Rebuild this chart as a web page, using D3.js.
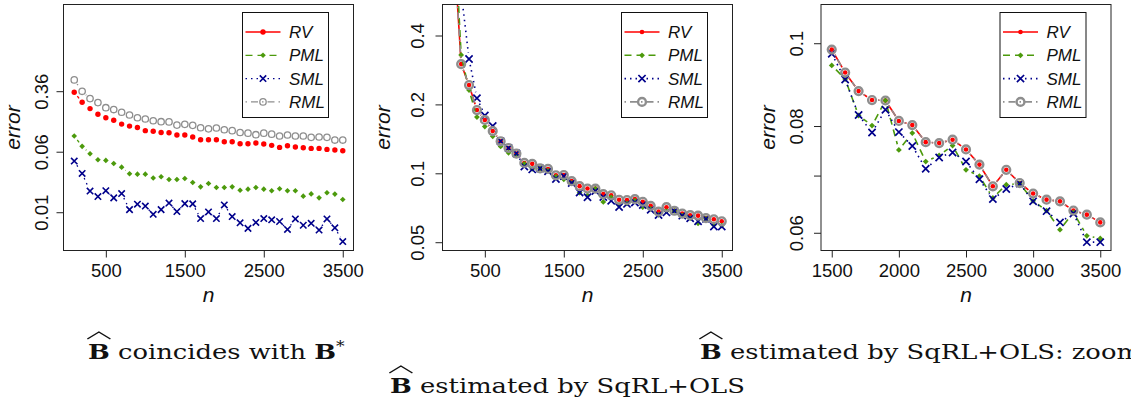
<!DOCTYPE html>
<html>
<head>
<meta charset="utf-8">
<script src="https://cdn.jsdelivr.net/npm/d3@7"></script>
<style>
  body { margin: 0; background: #fff; }
  svg { display: block; }
</style>
</head>
<body>
<script>
//Sizes
const W = 1131
const H = 406

//DATA
const nAll = [100, 200, 300, 400, 500, 600, 700, 800, 900, 1000, 1100, 1200, 1300, 1400, 1500, 1600, 1700, 1800,
  1900, 2000, 2100, 2200, 2300, 2400, 2500, 2600, 2700, 2800, 2900, 3000, 3100, 3200, 3300, 3400, 3500]

// left panel: B-hat coincides with B*
const rv1 = [0.349, 0.259, 0.215, 0.182, 0.164, 0.152, 0.136, 0.128, 0.123, 0.112, 0.110, 0.106, 0.105, 0.0984,
  0.0984, 0.0927, 0.0856, 0.0856, 0.0856, 0.0807, 0.0807, 0.0760, 0.0760, 0.0775, 0.0753, 0.0724, 0.0682, 0.0717,
  0.0689, 0.0675, 0.0662, 0.0662, 0.0643, 0.0630, 0.0618]
const pml1 = [0.0955, 0.0703, 0.0565, 0.0473, 0.0464, 0.0424, 0.0380, 0.0312, 0.0309, 0.0309, 0.0275, 0.0286,
  0.0264, 0.0264, 0.0272, 0.0241, 0.0212, 0.0234, 0.0208, 0.0208, 0.0212, 0.0192, 0.0198, 0.0208, 0.0198, 0.0189,
  0.0200, 0.0189, 0.0189, 0.0161, 0.0172, 0.0153, 0.0178, 0.0171, 0.0146]
const sml1 = [0.0455, 0.0315, 0.0187, 0.0159, 0.0189, 0.0153, 0.0174, 0.0108, 0.0127, 0.0120, 0.0094, 0.0108,
  0.0131, 0.0102, 0.0129, 0.0128, 0.0083, 0.0101, 0.0083, 0.0124, 0.0088, 0.0073, 0.0062, 0.0074, 0.0083, 0.0080,
  0.0076, 0.0060, 0.0082, 0.0068, 0.0072, 0.0059, 0.0082, 0.0063, 0.0042]
const rml1 = [0.503, 0.359, 0.289, 0.257, 0.221, 0.209, 0.193, 0.178, 0.164, 0.158, 0.150, 0.146, 0.145, 0.132,
  0.135, 0.131, 0.122, 0.118, 0.121, 0.115, 0.112, 0.106, 0.104, 0.0993, 0.104, 0.101, 0.0955, 0.0984, 0.0955,
  0.0955, 0.0918, 0.0927, 0.0918, 0.0847, 0.0847]

// middle + right panel: B-hat estimated by SqRL+OLS
const rv2 = [1.10, 0.300, 0.243, 0.189, 0.171, 0.153, 0.138, 0.129, 0.122, 0.111, 0.110, 0.105, 0.1045, 0.098,
  0.0983, 0.0924, 0.0879, 0.0858, 0.0857, 0.0811, 0.0802, 0.0766, 0.0764, 0.0771, 0.0751, 0.0721, 0.0680, 0.0711,
  0.0686, 0.0667, 0.0656, 0.0653, 0.0637, 0.0630, 0.0617]
const pml2 = [1.50, 0.329, 0.231, 0.176, 0.160, 0.145, 0.131, 0.123, 0.120, 0.110, 0.1045, 0.105, 0.1028, 0.0967,
  0.0942, 0.0908, 0.0823, 0.0801, 0.0857, 0.0750, 0.0785, 0.0727, 0.0739, 0.0759, 0.0711, 0.0699, 0.0659, 0.0683,
  0.0685, 0.0654, 0.0637, 0.0605, 0.0634, 0.0595, 0.0591]
const sml2 = [2.00, 0.620, 0.316, 0.213, 0.179, 0.161, 0.138, 0.129, 0.122, 0.107, 0.104, 0.105, 0.102, 0.0945,
  0.0972, 0.0907, 0.0824, 0.0786, 0.0836, 0.0787, 0.0758, 0.0713, 0.0735, 0.0745, 0.0727, 0.0693, 0.0657, 0.0675,
  0.0685, 0.0653, 0.0636, 0.0617, 0.0632, 0.0585, 0.0585]
const rml2 = [1.10, 0.300, 0.243, 0.189, 0.171, 0.153, 0.138, 0.129, 0.122, 0.111, 0.110, 0.105, 0.1045, 0.098,
  0.0983, 0.0924, 0.0879, 0.0858, 0.0857, 0.0811, 0.0802, 0.0766, 0.0764, 0.0771, 0.0751, 0.0721, 0.0680, 0.0711,
  0.0686, 0.0667, 0.0656, 0.0653, 0.0637, 0.0630, 0.0617]

const seriesNames = ['RV', 'PML', 'SML', 'RML']

//Ticks
const xTicks1 = [500, 1500, 2500, 3500]
const xTicks3 = [1500, 2000, 2500, 3000, 3500]
const yTicks1 = [0.01, 0.06, 0.36]
const yTickLabels1 = ['0.01', '0.06', '0.36']
const yTicks2 = [0.05, 0.1, 0.2, 0.4]
const yTickLabels2 = ['0.05', '0.1', '0.2', '0.4']
const yTicks3 = [0.06, 0.07, 0.08, 0.1]
const yTickLabels3 = ['0.06', '', '0.08', '0.1']

//Styles
const styles = {
  RV:  { color: '#ff0000', dash: null,            mark: 'dot' },
  PML: { color: '#4c9a0c', dash: '7,5',           mark: 'diamond' },
  SML: { color: '#00008b', dash: '1.5,4',         mark: 'cross' },
  RML: { color: '#8e8e8e', dash: '1.5,4,7,4',     mark: 'ring' }
}
const sans = 'Liberation Sans, Arial, Helvetica, sans-serif'
const serif = 'DejaVu Serif, serif'

const svg = d3.select('body')
  .append('svg')
  .attr('width', W)
  .attr('height', H)

function drawMark(g, type, x, y, color, m) {
  if (type === 'dot') {
    g.append('circle').attr('cx', x).attr('cy', y).attr('r', m.dot).attr('fill', color)
  } else if (type === 'diamond') {
    const s = m.diamond
    g.append('path')
      .attr('d', `M${x},${y - s}L${x + s},${y}L${x},${y + s}L${x - s},${y}Z`)
      .attr('fill', color)
  } else if (type === 'cross') {
    const s = m.cross
    g.append('path')
      .attr('d', `M${x - s},${y - s}L${x + s},${y + s}M${x - s},${y + s}L${x + s},${y - s}`)
      .attr('stroke', color).attr('stroke-width', m.crossW).attr('fill', 'none')
  } else {
    g.append('circle').attr('cx', x).attr('cy', y).attr('r', m.ring)
      .attr('fill', 'none').attr('stroke', color).attr('stroke-width', m.ringW)
  }
}

function panel(cfg) {
  const x = d3.scaleLinear().domain(cfg.xDomain).range([cfg.left, cfg.right])
  const y = d3.scaleLog().domain(cfg.yDomain).range([cfg.bottom, cfg.top])
  const id = 'clip' + cfg.key

  svg.append('clipPath').attr('id', id)
    .append('rect')
    .attr('x', cfg.left).attr('y', cfg.top)
    .attr('width', cfg.right - cfg.left).attr('height', cfg.bottom - cfg.top)

  const plot = svg.append('g').attr('clip-path', `url(#${id})`)

  cfg.series.forEach((vals, si) => {
    const st = styles[seriesNames[si]]
    const pts = []
    cfg.n.forEach((n, i) => {
      if (n >= cfg.nMin) pts.push([x(n), y(vals[i])])
    })
    // type = "b": line pieces with a gap round each point
    const gl = plot.append('g')
    for (let i = 0; i < pts.length - 1; i++) {
      const [ax, ay] = pts[i], [bx, by] = pts[i + 1]
      const d = Math.hypot(bx - ax, by - ay)
      if (d <= 2 * cfg.gap) continue
      const ux = (bx - ax) / d, uy = (by - ay) / d
      gl.append('line')
        .attr('x1', ax + ux * cfg.gap).attr('y1', ay + uy * cfg.gap)
        .attr('x2', bx - ux * cfg.gap).attr('y2', by - uy * cfg.gap)
        .attr('stroke', st.color).attr('stroke-width', cfg.lw)
        .attr('stroke-dasharray', st.dash)
    }
    const gm = plot.append('g')
    pts.forEach(p => drawMark(gm, st.mark, p[0], p[1], st.color, cfg.m))
  })

  //Box
  svg.append('rect')
    .attr('x', cfg.left).attr('y', cfg.top)
    .attr('width', cfg.right - cfg.left).attr('height', cfg.bottom - cfg.top)
    .attr('fill', 'none').attr('stroke', '#222').attr('stroke-width', 1)

  //Axes
  const xAxis = svg.append('g')
    .attr('transform', `translate(0,${cfg.bottom})`)
    .call(d3.axisBottom(x).tickValues(cfg.xTicks).tickSize(7).tickSizeOuter(0).tickFormat(d3.format('d')))
  xAxis.select('.domain').remove()
  xAxis.selectAll('line').attr('stroke', '#222')
  xAxis.selectAll('text')
    .attr('y', 26.5).attr('dy', 0)
    .style('font-family', sans).style('font-size', '18.5px').attr('fill', '#111')

  const yAxis = svg.append('g')
    .attr('transform', `translate(${cfg.left},0)`)
    .call(d3.axisLeft(y).tickValues(cfg.yTicks).tickSize(7).tickSizeOuter(0)
      .tickFormat((d, i) => cfg.yLabels[i]))
  yAxis.select('.domain').remove()
  yAxis.selectAll('line').attr('stroke', '#222')
  yAxis.selectAll('text')
    .attr('transform', 'rotate(-90)')
    .attr('x', 0).attr('y', -cfg.tickLabOff).attr('dy', 0)
    .attr('text-anchor', 'middle')
    .style('font-family', sans).style('font-size', '18.5px').attr('fill', '#111')

  //Axis titles
  svg.append('text')
    .attr('x', (cfg.left + cfg.right) / 2).attr('y', 302)
    .attr('text-anchor', 'middle')
    .style('font-family', sans).style('font-size', '21px').style('font-style', 'italic')
    .attr('fill', '#111')
    .text('n')
  svg.append('text')
    .attr('transform', `translate(${cfg.errX},${(cfg.top + cfg.bottom) / 2}) rotate(-90)`)
    .attr('text-anchor', 'middle')
    .style('font-family', sans).style('font-size', '21px').style('font-style', 'italic')
    .attr('fill', '#111')
    .text('error')

  //Legend
  const lx = cfg.right - 111, ly = cfg.top + 8
  const lg = svg.append('g')
  lg.append('rect')
    .attr('x', lx).attr('y', ly).attr('width', 86).attr('height', 105)
    .attr('fill', '#fff').attr('stroke', '#111').attr('stroke-width', 1)
  seriesNames.forEach((name, i) => {
    const st = styles[name]
    const yy = ly + 19.5 + i * 23.3
    lg.append('line')
      .attr('x1', lx + 3).attr('x2', lx + 38).attr('y1', yy).attr('y2', yy)
      .attr('stroke', st.color).attr('stroke-width', cfg.lw)
      .attr('stroke-dasharray', st.dash)
    drawMark(lg, st.mark, lx + 20.5, yy, st.color, cfg.m)
    lg.append('text')
      .attr('x', lx + 46.5).attr('y', yy + 6)
      .style('font-family', sans).style('font-size', '17px').style('font-style', 'italic')
      .attr('fill', '#111')
      .text(name)
  })
}

const marks1 = { dot: 2.7, diamond: 2.8, cross: 3.2, crossW: 1.6, ring: 3.2, ringW: 1.3 }
const marks2 = { dot: 2.3, diamond: 2.9, cross: 3.6, crossW: 1.7, ring: 3.9, ringW: 2.4 }

panel({ key: 1, left: 63.5, right: 353.5, top: 4.5, bottom: 250.5,
  xDomain: [-36, 3636], yDomain: [0.00322, 4.69], n: nAll, nMin: 0,
  series: [rv1, pml1, sml1, rml1], xTicks: xTicks1, yTicks: yTicks1, yLabels: yTickLabels1,
  tickLabOff: 15.5, errX: 20, gap: 5, lw: 1.3, m: marks1 })

panel({ key: 2, left: 442.5, right: 732.5, top: 4.5, bottom: 250.5,
  xDomain: [-36, 3636], yDomain: [0.046, 0.5464], n: nAll, nMin: 0,
  series: [rv2, pml2, sml2, rml2], xTicks: xTicks1, yTicks: yTicks2, yLabels: yTickLabels2,
  tickLabOff: 18.5, errX: 390, gap: 6, lw: 1.6, m: marks2 })

panel({ key: 3, left: 821, right: 1111, top: 4.5, bottom: 250.5,
  xDomain: [1420, 3580], yDomain: [0.0572, 0.111], n: nAll, nMin: 1500,
  series: [rv2, pml2, sml2, rml2], xTicks: xTicks3, yTicks: yTicks3, yLabels: yTickLabels3,
  tickLabOff: 18, errX: 775, gap: 6, lw: 1.6, m: marks2 })

//Captions (LaTeX-like, stretched to the widths of the original)
function caption(x0, y0, rest, star, target) {
  const g = svg.append('g')
  const t = g.append('text')
    .attr('x', 0).attr('y', 0)
    .style('font-family', serif).style('font-size', '21px').attr('fill', '#111')
  const b = t.append('tspan').style('font-weight', 'bold').text('B')
  t.append('tspan').text(rest)
  if (star) {
    t.append('tspan').style('font-weight', 'bold').text('B')
    t.append('tspan').attr('dy', -8).style('font-size', '14px').text('*')
  }
  const bw = b.node().getComputedTextLength()
  g.append('path')
    .attr('d', `M${-0.5},${-20} L${bw / 2},${-27} L${bw + 0.5},${-20}`)
    .attr('fill', 'none').attr('stroke', '#111').attr('stroke-width', 1.2)
  return { g, w: t.node().getBBox().width, x0, y0, target }
}

const caps = [
  caption(88, 359, ' coincides with ', true),
  caption(700, 359, ' estimated by SqRL+OLS: zoom', false),
  caption(390, 393, ' estimated by SqRL+OLS', false)
]
// horizontal stretch taken from the middle caption (390 .. 745)
const sx = 355 / caps[2].w
caps.forEach(c => c.g.attr('transform', `translate(${c.x0},${c.y0}) scale(${sx},1)`))
</script>
</body>
</html>
